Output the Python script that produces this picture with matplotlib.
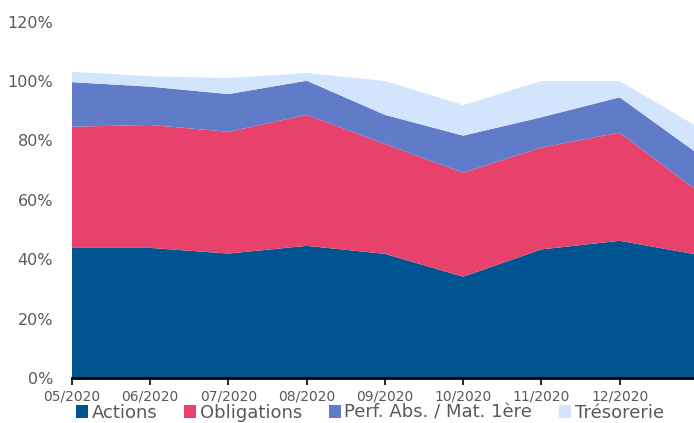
import numpy as np
import matplotlib.pyplot as plt
from matplotlib.patches import Patch

months = ["05/2020", "06/2020", "07/2020", "08/2020", "09/2020",
          "10/2020", "11/2020", "12/2020", "01/2021"]
actions = [43.8, 43.8, 41.9, 44.5, 41.8, 34.1, 43.3, 46.2, 41.5]
obligations = [40.8, 41.4, 41.0, 44.1, 37.0, 35.0, 34.3, 36.4, 21.3]
perf_abs = [15.0, 12.9, 12.7, 11.5, 9.8, 12.5, 10.2, 11.9, 12.7]
tresorerie = [3.5, 3.5, 5.4, 2.6, 11.4, 10.3, 12.2, 5.5, 9.0]

labels = ["Actions", "Obligations", "Perf. Abs. / Mat. 1ère", "Trésorerie"]
colors = ["#00548f", "#e8416b", "#607bc7", "#d3e5fc"]
text_col = "#595959"

plt.rcParams['font.family'] = ['DejaVu Sans']

fig = plt.figure(figsize=(6.94, 4.23), dpi=100)
ax = fig.add_axes([72 / 694, 1 - 378 / 423, 1 - 72 / 694, (378 - 21.6) / 423])

x = np.arange(len(months))
ax.stackplot(x, actions, obligations, perf_abs, tresorerie, colors=colors, linewidth=0)

ax.set_xlim(0, 7.95)
ax.set_ylim(0, 120)
ax.set_yticks(np.arange(0, 121, 20))
ax.set_yticklabels([f"{v}%" for v in range(0, 121, 20)], fontsize=11.5, color=text_col)
ax.set_xticks(x[:-1])
ax.set_xticklabels(months[:-1], fontsize=10, color=text_col)
ax.tick_params(axis='y', length=0, pad=13.5)
ax.tick_params(axis='x', direction='out', length=5, width=1.2, color='black', pad=3)

for s in ["top", "right", "left"]:
    ax.spines[s].set_visible(False)
ax.spines["bottom"].set_linewidth(2)
ax.spines["bottom"].set_color("black")

handles = [Patch(facecolor=c, edgecolor='none') for c in colors]
fig.legend(handles, labels, loc='center', bbox_to_anchor=(0.533, 0.024), ncol=4,
           frameon=False, fontsize=13, handlelength=0.65, handleheight=0.65,
           handletextpad=0.2, columnspacing=1.5, labelcolor=text_col,
           borderaxespad=0)

fig.savefig("out.png", dpi=100)
